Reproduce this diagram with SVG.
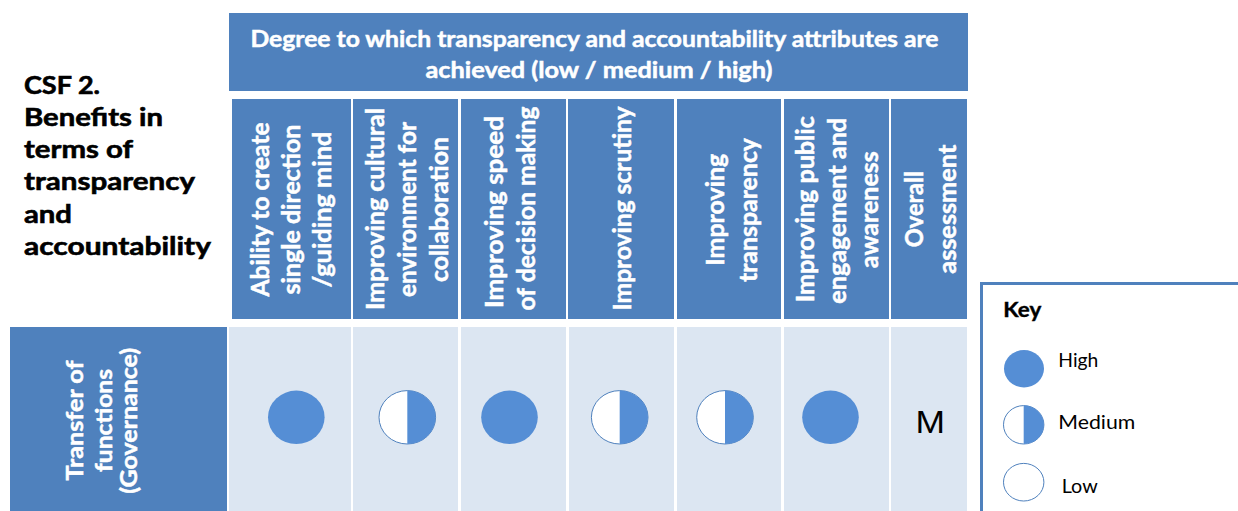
<svg xmlns="http://www.w3.org/2000/svg" width="1238" height="511" viewBox="0 0 1238 511">
<defs>
<style>
.hdr{fill:#4f81bd}
.body{fill:#dce6f2}
.wt{fill:#ffffff;stroke:#ffffff;stroke-width:0.5;font-family:Lato,"Liberation Sans",sans-serif;font-weight:bold}
.rot{font-size:24.5px}
.blk{fill:#000000;font-family:Lato,"Liberation Sans",sans-serif}
.csf{stroke:#000000;stroke-width:0.6;font-weight:bold;font-size:25px}
.dot{fill:#558ed5}
.ring{fill:#ffffff;stroke:#4f81bd;stroke-width:1}
</style>
</defs>
<rect x="0" y="0" width="1238" height="511" fill="#ffffff"/>

<g id="title">
<text class="blk csf" x="24" y="94.3" textLength="76" lengthAdjust="spacingAndGlyphs">CSF 2.</text>
<text class="blk csf" x="24" y="126" textLength="139" lengthAdjust="spacingAndGlyphs">Benefits in</text>
<text class="blk csf" x="24" y="158.3" textLength="109" lengthAdjust="spacingAndGlyphs">terms of</text>
<text class="blk csf" x="24" y="190" textLength="171" lengthAdjust="spacingAndGlyphs">transparency</text>
<text class="blk csf" x="24" y="223.3" textLength="48" lengthAdjust="spacingAndGlyphs">and</text>
<text class="blk csf" x="24" y="255" textLength="187" lengthAdjust="spacingAndGlyphs">accountability</text>
</g>

<g id="header">
<rect class="hdr" x="229" y="13" width="739" height="78"/>
<text class="wt" font-size="22.5" x="250.5" y="46.7" textLength="688" lengthAdjust="spacingAndGlyphs">Degree to which transparency and accountability attributes are</text>
<text class="wt" font-size="22.5" x="425.5" y="78.3" textLength="347" lengthAdjust="spacingAndGlyphs">achieved (low / medium / high)</text>
</g>

<g id="col1">
<rect class="hdr" x="232" y="99" width="119" height="220"/>
<text class="wt rot" text-anchor="middle" transform="translate(268.5,209.5) rotate(-90)" textLength="174" lengthAdjust="spacingAndGlyphs">Ability to create</text>
<text class="wt rot" text-anchor="middle" transform="translate(300,209.5) rotate(-90)" textLength="170" lengthAdjust="spacingAndGlyphs">single direction</text>
<text class="wt rot" text-anchor="middle" transform="translate(331,209.5) rotate(-90)" textLength="156" lengthAdjust="spacingAndGlyphs">/guiding mind</text>
</g>
<g id="col2">
<rect class="hdr" x="353" y="99" width="105" height="220"/>
<text class="wt rot" text-anchor="middle" transform="translate(383.5,209) rotate(-90)" textLength="202" lengthAdjust="spacingAndGlyphs">Improving cultural</text>
<text class="wt rot" text-anchor="middle" transform="translate(415.5,209.5) rotate(-90)" textLength="175" lengthAdjust="spacingAndGlyphs">environment for</text>
<text class="wt rot" text-anchor="middle" transform="translate(447.5,209.5) rotate(-90)" textLength="145" lengthAdjust="spacingAndGlyphs">collaboration</text>
</g>
<g id="col3">
<rect class="hdr" x="461" y="99" width="105" height="220"/>
<text class="wt rot" text-anchor="middle" transform="translate(503.3,212) rotate(-90)" textLength="192" lengthAdjust="spacingAndGlyphs">Improving speed</text>
<text class="wt rot" text-anchor="middle" transform="translate(535,208.5) rotate(-90)" textLength="204" lengthAdjust="spacingAndGlyphs">of decision making</text>
</g>
<g id="col4">
<rect class="hdr" x="568" y="99" width="106" height="220"/>
<text class="wt rot" text-anchor="middle" transform="translate(631,208.5) rotate(-90)" textLength="204" lengthAdjust="spacingAndGlyphs">Improving scrutiny</text>
</g>
<g id="col5">
<rect class="hdr" x="677" y="99" width="104" height="220"/>
<text class="wt rot" text-anchor="middle" transform="translate(724.3,209.7) rotate(-90)" textLength="112" lengthAdjust="spacingAndGlyphs">Improving</text>
<text class="wt rot" text-anchor="middle" transform="translate(756.5,210) rotate(-90)" textLength="144" lengthAdjust="spacingAndGlyphs">transparency</text>
</g>
<g id="col6">
<rect class="hdr" x="784" y="99" width="105" height="220"/>
<text class="wt rot" text-anchor="middle" transform="translate(814.3,209.2) rotate(-90)" textLength="186" lengthAdjust="spacingAndGlyphs">Improving public</text>
<text class="wt rot" text-anchor="middle" transform="translate(846.3,210.8) rotate(-90)" textLength="186" lengthAdjust="spacingAndGlyphs">engagement and</text>
<text class="wt rot" text-anchor="middle" transform="translate(878.3,209.7) rotate(-90)" textLength="117" lengthAdjust="spacingAndGlyphs">awareness</text>
</g>
<g id="col7">
<rect class="hdr" x="891" y="99" width="76" height="220"/>
<text class="wt rot" text-anchor="middle" transform="translate(922.6,209.2) rotate(-90)" textLength="76" lengthAdjust="spacingAndGlyphs">Overall</text>
<text class="wt rot" text-anchor="middle" transform="translate(955.5,209.2) rotate(-90)" textLength="129" lengthAdjust="spacingAndGlyphs">assessment</text>
</g>

<g id="row-label">
<rect class="hdr" x="10" y="327" width="217" height="184"/>
<text class="wt" font-size="23" text-anchor="middle" transform="translate(83.3,420.5) rotate(-90)" textLength="120" lengthAdjust="spacingAndGlyphs">Transfer of</text>
<text class="wt" font-size="23" text-anchor="middle" transform="translate(111.7,420.5) rotate(-90)" textLength="103" lengthAdjust="spacingAndGlyphs">functions</text>
<text class="wt" font-size="23" text-anchor="middle" transform="translate(137.3,420.8) rotate(-90)" textLength="146" lengthAdjust="spacingAndGlyphs">(Governance)</text>
</g>

<g id="cell1">
<rect class="body" x="229" y="327" width="122" height="184"/>
<ellipse class="dot" cx="296.3" cy="417.3" rx="28.3" ry="26.7"/>
</g>
<g id="cell2">
<rect class="body" x="353" y="327" width="105" height="184"/>
<ellipse class="ring" cx="407.3" cy="417.3" rx="28.3" ry="26.7"/>
<path class="dot" d="M407.3,390.6 A28.3,26.7 0 0 1 407.3,444 Z"/>
</g>
<g id="cell3">
<rect class="body" x="461" y="327" width="105" height="184"/>
<ellipse class="dot" cx="509.5" cy="417.3" rx="28.3" ry="26.7"/>
</g>
<g id="cell4">
<rect class="body" x="569" y="327" width="105" height="184"/>
<ellipse class="ring" cx="619.7" cy="417.3" rx="28.3" ry="26.7"/>
<path class="dot" d="M619.7,390.6 A28.3,26.7 0 0 1 619.7,444 Z"/>
</g>
<g id="cell5">
<rect class="body" x="677" y="327" width="104" height="184"/>
<ellipse class="ring" cx="725" cy="417.3" rx="28.3" ry="26.7"/>
<path class="dot" d="M725,390.6 A28.3,26.7 0 0 1 725,444 Z"/>
</g>
<g id="cell6">
<rect class="body" x="784" y="327" width="105" height="184"/>
<ellipse class="dot" cx="830.5" cy="417.3" rx="28.3" ry="26.7"/>
</g>
<g id="cell7">
<rect class="body" x="891" y="327" width="76" height="184"/>
<text x="915.5" y="433.3" font-family="'Liberation Sans',Arial,sans-serif" font-size="31" fill="#000000" textLength="29.5" lengthAdjust="spacingAndGlyphs">M</text>
</g>

<g id="key">
<rect x="981.5" y="283.5" width="300" height="300" fill="#ffffff" stroke="#4f81bd" stroke-width="3"/>
<text class="blk" font-weight="bold" font-size="21" stroke="#000000" stroke-width="0.4" x="1003.3" y="316.7" textLength="38" lengthAdjust="spacingAndGlyphs">Key</text>
<ellipse class="dot" cx="1024" cy="368.7" rx="20" ry="18.7"/>
<text class="blk" font-size="19" x="1058.3" y="367.3" textLength="40" lengthAdjust="spacingAndGlyphs">High</text>
<ellipse class="ring" cx="1023.7" cy="424.8" rx="20.2" ry="19.2"/>
<path class="dot" d="M1023.7,405.6 A20.2,19.2 0 0 1 1023.7,444 Z"/>
<text class="blk" font-size="19" x="1058.3" y="429" textLength="77" lengthAdjust="spacingAndGlyphs">Medium</text>
<ellipse class="ring" cx="1023.7" cy="482.2" rx="20.2" ry="18.8"/>
<text class="blk" font-size="19" x="1061.7" y="493.3" textLength="36" lengthAdjust="spacingAndGlyphs">Low</text>
</g>

<g id="connectors"></g>
</svg>
